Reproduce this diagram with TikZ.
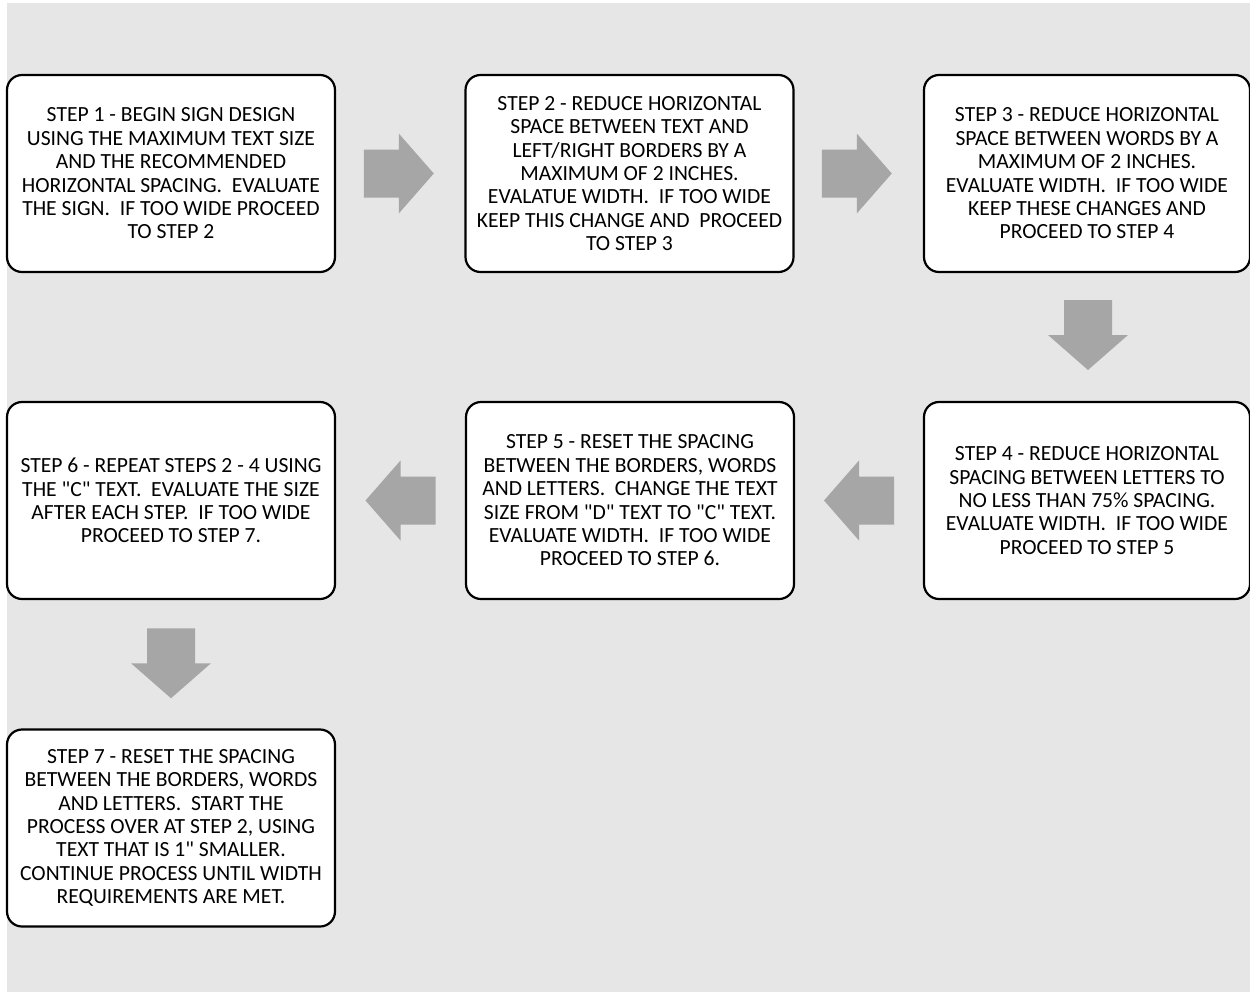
\documentclass[tikz,border=0pt]{standalone}
\usepackage{fontspec}
\setmainfont{Carlito}[Ligatures=TeXOff]
\usetikzlibrary{calc}
\definecolor{bggray}{RGB}{230,230,230}
\definecolor{arrowgray}{RGB}{166,166,166}
\begin{document}
\begin{tikzpicture}[x=1pt,y=-1pt,
  stepbox/.style={draw=black, fill=white, line width=2.2pt, rounded corners=15pt,
    minimum width=328pt, minimum height=197pt, inner sep=0pt, align=center,
    font=\fontsize{21.6}{23.4}\selectfont},
  blockarrow/.pic={\fill[arrowgray] (-35,-24) -- (0,-24) -- (0,-40) -- (35,0) -- (0,40) -- (0,24) -- (-35,24) -- cycle;}]
\useasboundingbox (0,0) rectangle (1250,993);
\fill[bggray] (7,3) rectangle (1250,992);
\node[stepbox] (s1) at (171,173.5) {STEP 1 - BEGIN SIGN DESIGN\\USING THE MAXIMUM TEXT SIZE\\AND THE RECOMMENDED\\HORIZONTAL SPACING.\ \ EVALUATE\\THE SIGN.\ \ IF TOO WIDE PROCEED\\TO STEP 2};
\node[stepbox] (s2) at (629.5,173.5) {STEP 2 - REDUCE HORIZONTAL\\SPACE BETWEEN TEXT AND\\LEFT/RIGHT BORDERS BY A\\MAXIMUM OF 2 INCHES.\\EVALATUE WIDTH.\ \ IF TOO WIDE\\KEEP THIS CHANGE AND\ \ PROCEED\\TO STEP 3};
\node[stepbox, minimum width=326pt] (s3) at (1087,173.5) {STEP 3 - REDUCE HORIZONTAL\\SPACE BETWEEN WORDS BY A\\MAXIMUM OF 2 INCHES.\\EVALUATE WIDTH.\ \ IF TOO WIDE\\KEEP THESE CHANGES AND\\PROCEED TO STEP 4};
\node[stepbox, minimum width=326pt] (s4) at (1087,500.5) {STEP 4 - REDUCE HORIZONTAL\\SPACING BETWEEN LETTERS TO\\NO LESS THAN 75\% SPACING.\\EVALUATE WIDTH.\ \ IF TOO WIDE\\PROCEED TO STEP 5};
\node[stepbox] (s5) at (630,500.5) {STEP 5 - RESET THE SPACING\\BETWEEN THE BORDERS, WORDS\\AND LETTERS.\ \ CHANGE THE TEXT\\SIZE FROM "D" TEXT TO "C" TEXT.\\EVALUATE WIDTH.\ \ IF TOO WIDE\\PROCEED TO STEP 6.};
\node[stepbox] (s6) at (171,500.5) {STEP 6 - REPEAT STEPS 2 - 4 USING\\THE "C" TEXT.\ \ EVALUATE THE SIZE\\AFTER EACH STEP.\ \ IF TOO WIDE\\PROCEED TO STEP 7.};
\node[stepbox] (s7) at (171,828) {STEP 7 - RESET THE SPACING\\BETWEEN THE BORDERS, WORDS\\AND LETTERS.\ \ START THE\\PROCESS OVER AT STEP 2, USING\\TEXT THAT IS 1" SMALLER.\\CONTINUE PROCESS UNTIL WIDTH\\REQUIREMENTS ARE MET.};
\path (s1.east) -- (s2.west) coordinate[pos=0.5] (a12);
\path (s2.east) -- (s3.west) coordinate[pos=0.5] (a23);
\path (s3.south) -- (s4.north) coordinate[pos=0.5] (a34);
\path (s4.west) -- (s5.east) coordinate[pos=0.5] (a45);
\path (s5.west) -- (s6.east) coordinate[pos=0.5] (a56);
\path (s6.south) -- (s7.north) coordinate[pos=0.5] (a67);
\pic at ($(a12)+(-1.5,0)$) {blockarrow};
\pic at ($(a23)+(-2,0)$) {blockarrow};
\pic[rotate=-90] at ($(a34)+(1,-2)$) {blockarrow};
\pic[rotate=180] at (a45) {blockarrow};
\pic[rotate=180] at (a56) {blockarrow};
\pic[rotate=-90] at ($(a67)+(0,-1)$) {blockarrow};
\end{tikzpicture}
\end{document}
